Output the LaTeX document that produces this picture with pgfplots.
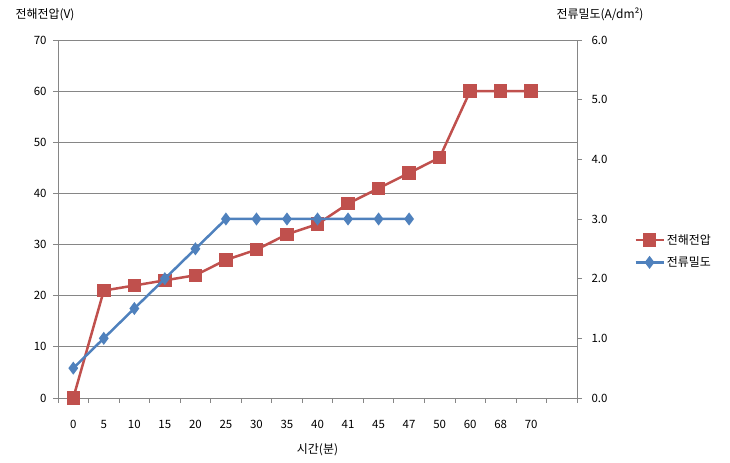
\documentclass[border=0pt]{standalone}
\usepackage{pgfplots}
\pgfplotsset{compat=1.18}
\usepackage{fontspec}
\setmainfont{Noto Sans CJK KR}
\definecolor{vred}{HTML}{C0504D}
\definecolor{cblue}{HTML}{4F81BD}
\definecolor{gridg}{HTML}{868686}
\pgfplotsset{
  common/.style={
    at={(58bp,65bp)}, anchor=south west,
    scale only axis, width=519bp, height=358bp,
    xmin=-0.5, xmax=16.5,
    /pgf/number format/assume math mode=true,
    tick label style={font=\fontsize{11.5}{13}\selectfont},
    axis line style={gridg, line width=0.75bp},
    every tick/.style={gridg, line width=0.75bp},
    tick align=outside,
    major tick length=5bp,
  }
}
\begin{document}
\begin{tikzpicture}[x=1bp,y=1bp]
\path (0,0) rectangle (730,463);
\begin{axis}[common,
  ymin=0, ymax=70, ytick={0,10,...,70},
  xtick={0,...,15},
  xticklabels={0,5,10,15,20,25,30,35,40,41,45,47,50,60,68,70},
  minor xtick={-0.5,0.5,...,16.5},
  major x tick style={draw=none},
  minor tick length=5bp,
  xticklabel style={yshift=-14bp},
  yticklabel style={xshift=-3bp},
  axis y line*=left, axis x line*=bottom,
  ymajorgrids, major grid style={gridg, line width=0.75bp},
  ylabel={전해전압(V)},
  ylabel style={font=\fontsize{12}{14}\selectfont, rotate=-90, at={(rel axis cs:0,1)}, anchor=base, inner sep=0pt, xshift=-13bp, yshift=21bp},
  xlabel={시간(분)},
  xlabel style={font=\fontsize{12}{14}\selectfont, yshift=-8bp},
  legend style={draw=none, at={(1.11,0.41)}, anchor=west, font=\fontsize{12}{14}\selectfont, row sep=7bp, inner sep=0pt},
  legend cell align=left,
  legend image code/.code={
    \draw[mark repeat=2,mark phase=2] plot coordinates {(0bp,0bp) (14bp,0bp) (28bp,0bp)};
  },
]
\addplot[vred, line width=2.5bp, mark=square*, mark size=5.5bp, mark options={solid}] coordinates {
(0,0) (1,21) (2,22) (3,23) (4,24) (5,27) (6,29) (7,32) (8,34) (9,38) (10,41) (11,44) (12,47) (13,60) (14,60) (15,60)};
\addlegendentry{전해전압}
\addlegendimage{cblue, line width=2.5bp, mark=diamond*, mark size=4.5bp}
\addlegendentry{전류밀도}
\end{axis}
\begin{axis}[common,
  ymin=0, ymax=6, ytick={0,1,...,6},
  yticklabel style={xshift=6bp, /pgf/number format/.cd, fixed, fixed zerofill, precision=1},
  axis y line*=right, axis x line=none,
  ylabel={전류밀도(A/dm²)},
  ylabel style={font=\fontsize{12}{14}\selectfont, rotate=-90, at={(rel axis cs:1,1)}, anchor=base, inner sep=0pt, xshift=23bp, yshift=21bp},
]
\addplot[cblue, line width=2.5bp, mark=diamond*, mark size=4.5bp] coordinates {
(0,0.5) (1,1.0) (2,1.5) (3,2.0) (4,2.5) (5,3.0) (6,3.0) (7,3.0) (8,3.0) (9,3.0) (10,3.0) (11,3.0)};
\end{axis}
\end{tikzpicture}
\end{document}
